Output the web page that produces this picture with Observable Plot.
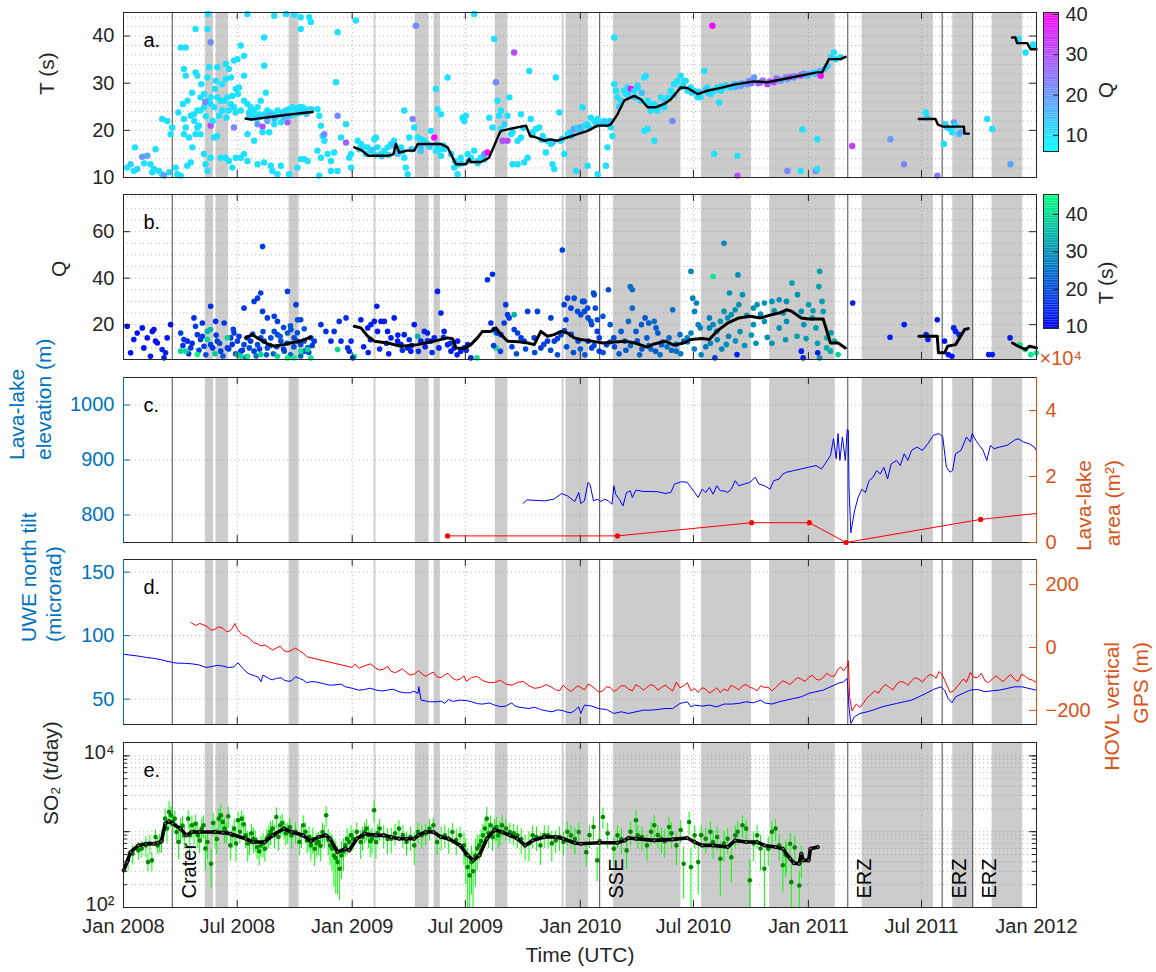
<!DOCTYPE html>
<html><head><meta charset="utf-8">
<script src="https://cdn.jsdelivr.net/npm/d3@7"></script>
<script src="https://cdn.jsdelivr.net/npm/@observablehq/plot@0.6"></script>
<style>
body{margin:0;background:#fff;}
#chart{position:relative;width:1156px;height:972px;overflow:hidden;font-family:"Liberation Sans",Arial,Helvetica,sans-serif;}
</style></head><body><div id="chart"></div>
<script>
// ---------------- DATA (times are decimal years) ----------------
const xTickDates = ["2008-01-01","2008-07-01","2009-01-01","2009-07-01","2010-01-01","2010-07-01","2011-01-01","2011-07-01","2012-01-01"];
const shadeStart = ["2008-05-11","2008-05-28","2008-09-22","2009-02-05","2009-04-12","2009-05-12","2009-08-18","2009-12-03","2009-12-09","2010-02-23","2010-07-14","2010-10-31","2011-03-28","2011-08-20","2011-10-22"];
const shadeEnd   = ["2008-05-24","2008-06-17","2008-10-08","2009-02-08","2009-05-04","2009-05-22","2009-09-07","2009-12-06","2010-01-14","2010-06-11","2010-10-02","2011-02-13","2011-07-20","2011-09-22","2011-12-10"];
const eventDates = ["2008-03-19","2010-02-01","2011-03-05","2011-08-03","2011-09-21"];
const eventLabels = ["Crater","SSE","ERZ","ERZ","ERZ"];

// panel a: [time, T (s), Q]
const eventsA = [
[2008.016,12.1,10],[2008.031,12.8,12],[2008.045,11.4,10],[2008.06,11.8,12],[2008.082,14.4,20],[2008.104,14.6,18],[2008.118,12.8,10],[2008.126,11.1,10],[2008.133,11.8,11],[2008.155,11.4,10],[2008.169,10.7,10],[2008.169,22.4,10],[2008.191,22.0,10],[2008.177,10.4,20],[2008.206,19.2,10],[2008.213,20.6,10],[2008.228,12.1,10],[2008.05,16.4,10],[2008.09,13.0,10],[2008.14,16.0,10],[2008.2,11.1,12],
[2008.315,41.5,10],[2008.25,37.6,10],[2008.272,37.6,10],[2008.264,33.0,10],[2008.272,31.6,10],[2008.315,32.3,10],[2008.323,31.6,10],[2008.367,41.5,10],[2008.369,44.7,10],[2008.381,38.7,22],[2008.374,33.4,10],[2008.367,31.2,10],[2008.403,30.5,10],[2008.41,33.4,10],[2008.447,34.1,10],[2008.447,30.9,10],[2008.461,33.0,10],[2008.483,34.8,10],[2008.498,35.1,10],[2008.513,38.0,10],[2008.527,35.8,10],[2008.527,31.6,10],[2008.505,29.1,10],[2008.491,28.8,10],[2008.476,27.3,10],[2008.454,27.0,10],[2008.44,26.3,10],[2008.432,24.2,10],[2008.418,23.1,10],[2008.396,24.9,10],[2008.381,25.6,10],[2008.367,26.3,10],[2008.352,24.9,10],[2008.337,24.2,10],[2008.323,24.2,10],[2008.308,23.4,10],[2008.294,23.1,10],[2008.337,27.0,10],[2008.352,27.7,10],[2008.381,27.0,10],[2008.41,27.0,10],[2008.425,26.3,10],[2008.469,25.6,10],[2008.483,24.9,10],[2008.513,24.2,10],[2008.527,26.3,10],[2008.542,25.6,10],[2008.556,24.9,10],[2008.264,22.4,10],[2008.272,20.6,10],[2008.264,19.2,10],[2008.286,18.5,10],[2008.301,16.4,10],[2008.315,19.2,10],[2008.323,20.6,10],[2008.337,19.2,10],[2008.352,15.0,10],[2008.359,12.8,10],[2008.367,11.4,10],[2008.381,14.2,10],[2008.396,18.5,10],[2008.41,18.8,10],[2008.425,14.2,10],[2008.447,14.2,10],[2008.461,13.5,10],[2008.476,12.1,10],[2008.491,14.2,10],[2008.513,14.2,10],[2008.527,15.0,10],[2008.542,13.5,10],[2008.235,10.7,10],[2008.25,10.4,10],[2008.279,12.5,10],[2008.294,13.2,10],[2008.381,21.0,30],[2008.483,20.6,22],[2008.357,26.0,22],
[2008.30,28.0,10],[2008.31,22.0,10],[2008.33,21.0,10],[2008.34,29.8,10],[2008.36,23.0,10],[2008.39,22.0,10],[2008.40,28.8,10],[2008.43,29.8,10],[2008.45,22.7,10],[2008.46,24.2,10],[2008.47,31.2,10],[2008.49,23.8,10],[2008.50,27.7,10],[2008.28,26.3,10],[2008.26,25.6,10],[2008.24,23.8,10],
[2008.542,44.7,10],[2008.659,44.3,10],[2008.71,44.7,10],[2008.746,44.5,10],[2008.775,44.0,10],[2008.812,44.0,10],[2008.615,39.7,10],[2008.615,33.7,10],[2008.622,28.0,10],[2008.6,26.3,10],[2008.586,24.9,10],[2008.571,24.2,10],[2008.549,23.8,10],[2008.556,22.7,10],[2008.571,23.1,10],[2008.593,23.4,10],[2008.615,23.4,10],[2008.629,24.2,10],[2008.644,23.8,10],[2008.659,23.4,10],[2008.673,24.2,10],[2008.695,23.8,10],[2008.71,24.2,10],[2008.724,24.5,10],[2008.739,24.9,10],[2008.754,24.5,10],[2008.768,24.9,10],[2008.783,24.9,10],[2008.797,24.5,10],[2008.812,24.2,10],[2008.586,21.3,20],[2008.608,20.8,30],[2008.629,22.0,18],[2008.659,21.3,10],[2008.688,21.7,10],[2008.717,21.7,28],[2008.746,23.4,10],[2008.775,23.8,10],[2008.542,19.2,10],[2008.571,17.8,10],[2008.586,12.8,10],[2008.615,13.2,10],[2008.644,12.5,10],[2008.651,11.4,10],[2008.673,10.7,10],[2008.688,12.5,10],[2008.724,10.7,10],[2008.761,12.1,10],[2008.775,13.9,10],[2008.79,13.9,10],[2008.805,13.5,10],[2008.608,19.6,10],[2008.637,19.6,10],[2008.7,22.7,14],[2008.66,22.5,16],[2008.60,22.9,12],[2008.73,23.2,12],
[2008.55,23.0,12],[2008.58,22.5,14],[2008.62,23.0,12],[2008.64,23.2,16],[2008.67,23.0,12],[2008.7,23.5,12],[2008.72,23.0,14],[2008.76,23.6,12],[2008.78,23.9,12],[2008.8,23.5,16],[2008.82,24.5,12],
[2008.775,41.5,10],[2008.819,43.0,10],[2008.848,24.5,10],[2008.856,23.1,10],[2008.863,21.0,10],[2008.87,18.8,10],[2008.878,17.8,10],[2008.848,15.7,10],[2008.863,14.2,10],[2008.878,19.2,22],[2008.892,15.0,10],[2008.907,13.5,10],[2008.921,15.3,10],[2008.936,23.1,22],[2008.936,40.8,10],[2008.929,30.2,10],[2008.951,18.5,10],[2008.973,21.3,10],[2008.973,17.4,28],[2008.987,14.2,10],[2008.995,15.0,10],[2008.856,10.4,10],[2008.907,11.4,10],[2008.936,11.4,10],[2009.016,43.3,10],[2008.995,12.1,10],
[2009.024,17.8,10],[2009.038,17.1,10],[2009.053,16.4,10],[2009.068,16.4,10],[2009.082,15.7,10],[2009.097,18.1,10],[2009.104,18.5,10],[2009.111,16.4,10],[2009.126,15.0,10],[2009.141,15.7,10],[2009.155,16.4,10],[2009.17,17.1,10],[2009.184,17.8,10],[2009.199,15.7,10],[2009.214,16.4,10],[2009.228,14.2,10],[2009.235,12.1,10],[2009.243,10.7,10],[2009.228,24.2,10],[2009.25,18.5,10],[2009.265,22.4,22],[2009.272,20.6,10],[2009.287,18.5,10],[2009.301,18.1,10],[2009.316,17.8,10],[2009.33,17.1,10],[2009.345,19.9,10],[2009.36,18.5,40],[2009.367,28.8,10],[2009.374,24.5,10],[2009.389,23.4,10],[2009.382,16.0,10],[2009.403,16.0,10],[2009.418,31.2,10],[2009.433,15.0,10],[2009.447,12.1,10],[2009.462,10.7,10],[2009.469,12.8,10],[2009.476,14.2,10],[2009.484,22.7,10],[2009.491,22.0,10],[2009.498,23.1,10],[2009.506,15.0,10],[2009.52,14.2,10],[2009.535,15.7,10],[2009.549,13.5,10],[2009.564,14.2,10],[2009.579,15.0,20],[2009.593,15.3,38],[2009.601,22.7,10],[2009.615,20.6,10],[2009.622,39.4,10],[2009.63,30.2,22],[2009.637,26.3,10],[2009.644,23.1,10],[2009.535,44.7,10],[2009.279,42.2,22],[2009.367,15.7,10],[2009.389,14.6,10],[2009.18,16.8,14],[2009.09,15.9,14],[2009.3,16.5,16],
[2009.03,16.0,12],[2009.06,15.0,12],[2009.1,14.8,12],[2009.13,14.5,14],[2009.16,14.8,12],[2009.2,15.0,14],[2009.22,15.5,12],[2009.26,16.0,12],[2009.3,15.7,14],[2009.34,16.5,12],[2009.37,17.0,14],[2009.4,16.8,12],[2009.45,13.5,12],[2009.48,13.0,12],[2009.51,13.5,14],[2009.55,13.0,12],[2009.58,13.8,14],
[2009.652,20.3,10],[2009.667,21.3,12],[2009.681,23.1,10],[2009.696,19.2,10],[2009.703,19.6,10],[2009.725,17.8,10],[2009.74,18.5,10],[2009.74,23.4,10],[2009.703,12.8,10],[2009.725,12.8,10],[2009.689,27.0,10],[2009.652,24.2,10],[2009.659,17.8,30],[2009.681,17.8,30],[2009.754,13.2,10],[2009.769,14.2,10],[2009.71,36.5,30],[2009.776,32.6,10],[2009.783,22.4,10],[2009.791,19.6,10],[2009.805,20.3,10],[2009.82,20.6,10],[2009.835,18.8,10],[2009.849,15.3,10],[2009.856,17.8,10],[2009.871,17.1,10],[2009.878,12.8,10],[2009.886,11.8,10],[2009.893,31.2,10],[2009.908,23.8,10],[2009.915,17.8,10],[2009.93,15.0,10],[2009.944,19.2,10],[2009.959,19.6,12],[2009.973,20.3,20],[2009.988,20.6,10],[2010.003,20.6,20],[2010.01,24.9,10],[2010.017,21.0,10],[2010.032,21.3,10],[2010.046,22.7,10],[2010.061,22.0,10],[2010.076,22.4,10],[2010.09,21.7,10],[2010.105,22.0,10],[2010.119,21.3,10],[2010.134,20.6,10],[2010.141,18.8,10],[2010.119,16.4,10],[2010.112,12.5,10],[2010.076,10.7,10],[2010.032,12.5,10],[2009.981,11.4,10],
[2009.75,20.5,12],[2009.79,19.0,12],[2009.83,18.0,12],[2009.88,17.5,14],[2009.92,18.2,14],[2009.96,18.8,14],[2010.0,19.8,14],[2010.04,20.5,12],[2010.07,21.2,12],[2010.1,21.5,14],[2010.13,22.0,14],[2010.17,25.0,12],[2010.21,27.5,12],[2010.24,27.0,14],[2010.27,28.0,14],[2010.3,25.5,12],[2010.34,25.0,12],[2010.37,26.0,14],[2010.41,27.5,12],[2010.45,29.5,14],[2010.49,28.0,14],[2010.52,28.2,12],[2010.56,28.0,14],[2010.59,28.6,14],[2010.64,29.5,14],[2010.68,29.2,18],[2010.71,30.0,18],[2010.74,30.5,22],[2010.78,30.0,24],[2010.83,30.4,28],[2010.87,30.8,26],[2010.9,31.2,22],[2010.94,31.5,26],[2010.97,31.8,24],[2011.0,31.9,20],[2011.03,32.0,14],[2011.07,33.0,12],[2011.1,35.5,12],[2011.14,35.5,12],
[2010.149,39.7,10],[2010.149,29.8,10],[2010.156,28.4,10],[2010.163,27.0,10],[2010.178,26.3,10],[2010.192,28.4,10],[2010.207,29.1,10],[2010.222,28.8,40],[2010.236,28.4,10],[2010.251,29.1,10],[2010.265,26.3,10],[2010.28,31.2,10],[2010.287,31.6,10],[2010.295,26.3,10],[2010.309,24.2,10],[2010.324,25.6,10],[2010.338,24.2,10],[2010.353,27.0,10],[2010.368,24.9,10],[2010.382,27.0,10],[2010.397,28.4,10],[2010.411,29.8,10],[2010.426,30.5,10],[2010.44,31.6,10],[2010.455,30.5,10],[2010.28,19.9,10],[2010.295,20.3,10],[2010.324,17.8,10],[2010.404,22.0,22],[2010.44,29.1,10],[2010.462,30.5,10],[2010.47,28.4,10],[2010.484,29.1,10],[2010.499,28.4,10],[2010.514,27.0,10],[2010.528,27.0,10],[2010.543,32.6,10],[2010.557,29.1,10],[2010.572,27.7,10],[2010.587,28.4,10],[2010.601,29.1,10],[2010.609,25.9,10],[2010.616,28.4,10],[2010.63,29.1,10],[2010.659,29.1,12],[2010.674,29.8,14],[2010.689,29.8,16],[2010.703,29.4,18],[2010.732,29.8,20],[2010.762,31.2,20],[2010.791,30.2,30],[2010.82,29.8,30],[2010.849,30.2,30],[2010.878,30.5,20],[2010.908,30.9,18],[2010.937,31.2,20],[2010.966,31.6,30],[2010.995,31.6,15],[2011.024,32.3,12],[2011.054,31.6,40],[2011.083,33.7,12],[2011.112,36.5,10],[2011.12,35.1,10],[2010.579,42.2,40],[2010.587,15.0,10],[2010.689,14.6,10],[2010.689,10.4,30],[2010.908,11.4,22],[2010.966,11.4,10],[2010.974,20.2,10],[2011.032,11.4,22],[2011.039,11.8,10],[2011.039,18.1,10],
[2010.25,29.5,12],[2010.2,27.8,10],[2010.55,28.7,14],[2010.62,29.3,12],[2010.75,30.0,25],[2010.8,30.6,25],[2010.86,31.0,25],[2010.92,31.3,28],[2010.98,32.0,20],[2011.05,32.6,15],
[2011.192,16.7,32],[2011.36,18.1,20],[2011.419,12.8,22],[2011.514,23.8,10],[2011.521,22.7,12],[2011.565,10.4,25],[2011.594,17.1,10],[2011.601,21.3,12],[2011.609,20.6,14],[2011.623,20.3,12],[2011.63,19.6,10],[2011.638,21.7,20],[2011.645,21.0,10],[2011.66,19.2,14],[2011.667,19.6,18],[2011.784,22.4,10],[2011.806,20.3,10],[2011.886,12.8,18],[2011.922,39.4,10],[2011.952,36.5,10],[2011.985,38.2,10],[2011.987,37.9,10]
];
// panel a: running median of T, one array per segment [time, T]
const medianA = [
[[2008.534,22.5],[2008.56,22.3],[2008.6,22.6],[2008.65,22.9],[2008.7,23.2],[2008.75,23.5],[2008.8,23.8],[2008.827,23.9]],
[[2009.009,16.4],[2009.04,15.8],[2009.053,15.3],[2009.07,14.6],[2009.155,14.6],[2009.18,14.9],[2009.192,17.1],[2009.206,15.3],[2009.24,15.7],[2009.272,15.7],[2009.287,17.1],[2009.389,17.1],[2009.418,16.4],[2009.455,12.8],[2009.498,12.8],[2009.513,13.9],[2009.52,13.3],[2009.564,13.3],[2009.6,14.2],[2009.644,19.2],[2009.652,19.9],[2009.7,20.4],[2009.762,21.0],[2009.78,18.8],[2009.8,18.6],[2009.842,17.8],[2009.87,18.1],[2009.9,17.8],[2009.944,18.5],[2009.988,19.2],[2010.032,19.9],[2010.076,21.0],[2010.12,21.0],[2010.134,21.3],[2010.163,23.4],[2010.192,26.3],[2010.236,27.3],[2010.265,26.6],[2010.295,24.9],[2010.33,24.9],[2010.368,25.6],[2010.397,26.6],[2010.44,29.1],[2010.47,29.0],[2010.514,27.7],[2010.557,28.4],[2010.616,29.0],[2010.674,29.7],[2010.762,30.4],[2010.82,30.2],[2010.893,30.9],[2010.966,31.6],[2011.039,32.3],[2011.06,32.3],[2011.09,35.1],[2011.141,35.1],[2011.163,35.6]],
[[2011.484,22.4],[2011.557,22.4],[2011.568,21.2],[2011.59,20.8],[2011.682,20.8],[2011.684,19.3],[2011.703,19.3]],
[[2011.893,39.7],[2011.908,39.7],[2011.915,38.5],[2011.959,38.5],[2011.974,37.2],[2012.0,37.2]]
];

// panel b: [time, Q, T (s)]
const eventsB = [
[2008.016,19.3,12],[2008.031,7.9,12],[2008.045,13.6,12],[2008.06,16.4,12],[2008.082,18.6,12],[2008.089,10,12],[2008.104,14.3,12],[2008.126,17.1,12],[2008.118,6.4,14],[2008.133,17.9,12],[2008.14,12.9,12],[2008.148,12.1,12],[2008.169,9.3,14],[2008.177,5.7,14],[2008.191,14.3,12],[2008.206,20,12],[2008.184,7.9,14],
[2008.308,22.9,16],[2008.381,27.9,16],[2008.345,20.7,16],[2008.403,21.4,16],[2008.44,20.7,18],[2008.367,17.1,35],[2008.527,27.1,18],[2008.571,30,18],[2008.586,31.4,18],[2008.6,33.6,18],[2008.608,53.6,18],[2008.608,25.7,18],[2008.629,22.9,18],[2008.659,23.6,18],[2008.673,21.4,18],[2008.717,34.3,18],[2008.754,28.6,18],[2008.761,22.1,20],[2008.775,22.1,20],[2008.315,19.3,18],[2008.323,15.7,18],[2008.25,16.4,18],[2008.264,13.6,18],[2008.279,12.9,16],[2008.294,10,18],[2008.337,13.6,18],[2008.352,10.7,18],[2008.381,11.4,18],[2008.41,12.9,18],[2008.425,8.6,18],[2008.454,10,18],[2008.469,14.3,18],[2008.483,16.4,18],[2008.498,12.9,18],[2008.513,8.6,18],[2008.527,11.4,20],[2008.542,14.3,18],[2008.556,12.9,18],[2008.571,8.6,18],[2008.586,11.4,20],[2008.6,14.3,20],[2008.615,12.9,18],[2008.629,10,20],[2008.644,14.3,20],[2008.659,17.1,20],[2008.673,15.7,20],[2008.688,12.9,20],[2008.703,8.6,20],[2008.717,16.4,22],[2008.732,17.9,20],[2008.746,14.3,20],[2008.761,12.9,22],[2008.775,11.4,20],[2008.79,8.6,20],[2008.805,10,20],[2008.819,14.3,20],[2008.834,12.9,18],[2008.73,19.5,22],[2008.70,18.8,20],[2008.79,18.2,22],[2008.48,18.0,18],
[2008.26,11.0,16],[2008.285,7.5,18],[2008.30,12.0,16],[2008.33,9.0,18],[2008.345,15.0,18],[2008.36,7.0,20],[2008.39,10.0,16],[2008.405,15.5,18],[2008.42,12.0,20],[2008.435,6.5,22],[2008.46,9.5,18],[2008.475,11.5,16],[2008.49,7.5,22],[2008.505,15.0,18],[2008.52,9.0,18],[2008.535,6.0,20],[2008.55,10.0,20],[2008.565,16.0,20],[2008.58,6.5,25],[2008.595,9.5,18],[2008.61,17.0,20],[2008.625,7.0,22],[2008.64,11.0,20],[2008.655,7.5,24],[2008.67,10.5,20],[2008.685,15.0,22],[2008.70,9.5,18],[2008.715,12.0,20],[2008.73,7.0,24],[2008.745,10.5,20],[2008.76,16.5,20],[2008.775,6.5,24],[2008.79,13.0,20],[2008.81,8.0,20],[2008.825,11.0,18],
[2008.25,8.6,40],[2008.272,8.6,40],[2008.323,7.1,45],[2008.367,13.6,40],[2008.381,17.9,35],[2008.454,14.3,40],[2008.513,6.4,40],[2008.542,6.4,42],[2008.673,6.4,40],[2008.717,5.7,45],[2008.746,5.7,45],[2008.775,8.6,42],[2008.805,9.3,40],[2008.819,5.7,42],[2008.936,9.3,40],[2009.009,6.4,45],[2009.547,5.7,42],[2009.63,10,40],[2009.71,24.3,35],[2009.63,16.4,35],[2008.40,7.5,38],[2008.60,7.2,40],[2008.50,7.0,38],
[2008.863,20,16],[2008.885,17.1,16],[2008.907,12.9,16],[2008.921,17.1,16],[2008.943,21.4,16],[2008.951,12.9,16],[2008.973,22.9,16],[2008.987,8.6,16],[2008.98,10.0,16],[2008.995,12.9,16],[2009.002,5.7,16],
[2009.038,22.1,14],[2009.068,18.6,14],[2009.082,20,14],[2009.097,21.4,14],[2009.108,27.9,14],[2009.111,17.1,14],[2009.126,21.4,14],[2009.141,21.4,14],[2009.155,17.1,14],[2009.17,14.3,14],[2009.184,22.9,14],[2009.199,12.9,14],[2009.214,11.4,14],[2009.228,15.7,14],[2009.243,10,14],[2009.257,8.6,14],[2009.272,20,14],[2009.287,15,35],[2009.301,12.9,14],[2009.316,17.1,14],[2009.33,16.4,14],[2009.345,12.9,14],[2009.36,14.3,14],[2009.374,34.3,14],[2009.389,25,14],[2009.403,17.1,14],[2009.418,11.4,14],[2009.433,8.6,14],[2009.447,10,14],[2009.462,12.9,14],[2009.476,8.6,14],[2009.491,10,14],[2009.506,11.4,14],[2009.52,5.7,14],[2009.08,13.5,14],[2009.15,12.0,16],[2009.25,13.5,16],[2009.33,13.0,16],[2009.40,14.5,16],
[2009.05,10.5,14],[2009.07,8.0,14],[2009.12,9.5,16],[2009.16,7.5,14],[2009.2,15.5,14],[2009.22,9.0,16],[2009.26,11.0,14],[2009.29,8.5,16],[2009.32,10.5,14],[2009.35,8.0,16],[2009.38,10.0,14],[2009.43,12.0,16],[2009.46,7.0,14],[2009.5,9.0,16],
[2009.593,39.3,16],[2009.615,41.7,16],[2009.608,20.7,16],[2009.622,17.9,16],[2009.637,16.4,16],[2009.652,15.7,18],[2009.666,20.7,18],[2009.673,28.6,18],[2009.681,24.3,18],[2009.688,22.9,18],[2009.71,17.9,18],[2009.725,16.4,18],[2009.74,14.3,18],[2009.754,12.9,18],[2009.769,25.7,18],[2009.798,14.3,18],[2009.812,25.7,18],[2009.827,10,18],[2009.856,12.9,18],[2009.871,22.9,18],[2009.886,12.9,18],[2009.915,15.7,20],[2009.921,52.1,18],[2009.929,28.6,18],[2009.937,22.1,18],[2009.944,31.4,18],[2009.959,27.1,18],[2009.973,31.4,20],[2009.988,25.7,20],[2010.002,24.3,20],[2010.017,30,20],[2010.032,27.1,20],[2010.046,21.4,20],[2010.061,32.9,20],[2010.075,22.1,20],[2009.96,15.8,20],[2009.93,17.5,20],[2009.90,14.0,18],[2009.99,13.0,20],
[2009.62,11.0,18],[2009.65,8.5,18],[2009.70,10.5,18],[2009.72,7.5,20],[2009.76,9.5,20],[2009.80,8.0,20],[2009.84,11.5,20],[2009.87,9.0,20],[2009.90,7.0,20],[2009.94,10.5,20],[2009.97,8.0,20],[2010.0,9.5,22],[2010.02,7.0,22],[2010.06,11.0,20],[2010.1,8.0,22],[2010.13,12.5,20],[2010.17,7.5,22],[2010.22,11.0,24],[2010.26,7.0,24],[2010.31,9.5,24],[2010.35,7.0,26],[2010.38,10.5,26],[2010.44,7.5,26],[2010.5,9.5,28],[2010.53,7.0,28],[2010.57,12.0,28],[2010.64,11.5,30],[2010.68,13.0,30],[2010.72,11.0,30],[2010.77,12.0,30],[2010.84,12.0,30],[2010.9,13.5,30],[2010.95,15.0,32],[2010.99,14.0,32],[2011.04,12.0,32],[2011.08,10.0,34],[2011.1,16.5,32],
[2010.010,30,20],[2010.018,25.7,20],[2010.034,22.9,20],[2010.050,20,20],[2010.058,33.6,20],[2010.066,27.1,20],[2010.074,17.1,18],[2010.083,14.3,18],[2010.099,23.6,22],[2010.123,35,20],[2010.131,20,22],[2010.147,14.3,20],[2010.034,12.9,18],[2010.050,10,18],[2010.083,8.6,18],[2010.115,11.4,18],
[2010.219,36.4,25],[2010.228,35,25],[2010.228,27.1,25],[2010.211,21.4,25],[2010.244,17.1,22],[2010.268,20,22],[2010.284,22.9,22],[2010.3,20.7,22],[2010.324,21.4,25],[2010.332,18.6,22],[2010.34,16.4,22],[2010.356,11.4,22],[2010.389,14.3,25],[2010.405,26.4,25],[2010.292,14.3,22],[2010.195,12.9,22],[2010.179,17.1,22],[2010.421,8.6,25],[2010.437,15.7,25],[2010.453,12.9,25],[2010.485,42.9,28],[2010.493,31.4,28],[2010.501,25.7,28],[2010.509,29.3,28],[2010.517,20,28],[2010.526,18.6,28],[2010.485,16.4,28],[2010.469,14.3,28],[2010.25,13.0,22],[2010.30,11.0,22],[2010.36,12.5,25],[2010.42,11.5,25],[2010.47,12.5,27],[2010.15,10.5,20],[2010.20,9.0,22],[2010.27,9.5,22],[2010.33,8.5,22],[2010.40,9.0,24],
[2010.582,40.7,42],[2010.630,55,28],[2010.654,33.6,30],[2010.691,41.4,30],[2010.711,32.9,30],[2010.695,28.6,30],[2010.679,26.4,30],[2010.646,22.9,30],[2010.614,21.4,30],[2010.582,20,28],[2010.566,18.6,28],[2010.598,17.1,28],[2010.63,25.7,30],[2010.662,24.3,30],[2010.566,22.9,28],[2010.759,27.1,30],[2010.775,28.6,30],[2010.807,29.3,30],[2010.84,30,30],[2010.872,30.7,30],[2010.904,30,30],[2010.928,37.9,32],[2010.952,32.9,30],[2010.969,25.7,30],[2010.807,21.4,30],[2010.759,20,30],[2010.904,21.4,30],[2010.872,18.6,30],[2010.73,24.0,30],[2010.79,24.6,30],[2010.85,26.0,30],[2010.89,25.0,30],[2010.60,13.5,28],[2010.65,15.0,28],[2010.70,17.0,30],[2010.75,15.5,30],[2010.82,14.5,30],[2010.55,10.5,26],[2010.62,9.5,28],
[2011.001,28.6,32],[2011.017,22.9,32],[2011.033,18.6,32],[2011.049,42.9,32],[2011.046,36.4,32],[2011.065,25.7,32],[2011.081,14.3,34],[2011.097,8.6,34],[2011.114,12.9,35],[2011.13,7.1,40],[2010.969,8.6,14],[2010.977,5.7,14],[2011.041,7.9,14],[2010.687,7.1,14],[2010.59,5.7,18],[2011.049,5.7,30],[2010.98,20,30],[2011.02,26,32],[2011.06,30.0,32],
[2011.194,29.3,14],[2011.358,14.6,14],[2011.42,20,14],[2011.516,15.7,14],[2011.524,13.6,14],[2011.565,22.1,12],[2011.597,12.9,12],[2011.613,7.1,12],[2011.629,6.4,12],[2011.637,18.6,14],[2011.645,17.1,14],[2011.661,15.7,14],[2011.79,7.1,14],[2011.806,7.1,14],[2011.884,14.3,14],[2011.927,11.4,42],[2011.951,9.3,42],[2011.975,7.1,42],[2011.999,7.9,42]
];
const medianB = [
[[2008.534,14.3],[2008.563,15.7],[2008.585,14.3],[2008.63,11.7],[2008.66,10.7],[2008.7,11.4],[2008.73,12.1],[2008.775,13.0],[2008.819,14.6]],
[[2009.009,19.3],[2009.038,18.6],[2009.068,15.0],[2009.097,12.9],[2009.155,12.1],[2009.214,10.7],[2009.287,11.4],[2009.36,12.9],[2009.418,14.3],[2009.44,13.9],[2009.455,10.0],[2009.49,9.7],[2009.52,11.4],[2009.549,14.3],[2009.571,17.1],[2009.608,17.1],[2009.63,18.6],[2009.652,15.7],[2009.681,12.9],[2009.73,12.6],[2009.77,12.1],[2009.798,11.4],[2009.827,17.1],[2009.856,15.0],[2009.885,15.7],[2009.915,17.1],[2009.944,16.4],[2009.973,14.3],[2010.002,13.6],[2010.05,12.9],[2010.099,12.1],[2010.195,12.9],[2010.24,12.1],[2010.292,10.3],[2010.324,11.7],[2010.372,12.9],[2010.41,11.2],[2010.453,12.1],[2010.485,13.6],[2010.534,14.0],[2010.566,13.6],[2010.598,17.1],[2010.646,20.7],[2010.695,22.9],[2010.743,23.6],[2010.79,22.9],[2010.84,24.3],[2010.872,25.0],[2010.904,26.4],[2010.928,25.7],[2010.969,22.9],[2011.001,22.4],[2011.065,22.4],[2011.097,12.1],[2011.13,12.1],[2011.162,10.0]],
[[2011.484,15.0],[2011.565,15.0],[2011.57,7.9],[2011.597,7.9],[2011.61,10.7],[2011.645,11.4],[2011.685,17.9],[2011.701,18.3]],
[[2011.895,12.1],[2011.92,10.7],[2011.951,9.3],[2011.97,10.7],[2012.0,10.0]]
];

// panel c: lava-lake elevation [time, m]
const lakeElev = [
[2009.75,821.4],[2009.766,827.5],[2009.842,825.7],[2009.884,828.7],[2009.918,839.1],[2009.943,834.9],[2009.976,824.5],[2009.993,841],[2010.002,820.8],[2010.018,825.7],[2010.034,859.3],[2010.042,856.3],[2010.058,825.7],[2010.074,828.7],[2010.091,824.5],[2010.107,828.7],[2010.123,825.7],[2010.139,819.6],[2010.147,853.2],[2010.155,837.9],[2010.171,828.7],[2010.187,816.5],[2010.203,841],[2010.219,844],[2010.228,831.8],[2010.244,845.3],[2010.276,842.8],[2010.308,842.8],[2010.34,842.2],[2010.372,839.1],[2010.397,841],[2010.413,856.3],[2010.445,860.6],[2010.469,859.3],[2010.485,850.2],[2010.501,841],[2010.517,831.8],[2010.534,847.1],[2010.55,841],[2010.566,850.2],[2010.582,837.9],[2010.598,853.2],[2010.614,844],[2010.63,844],[2010.646,841],[2010.662,847.1],[2010.679,862.4],[2010.695,853.2],[2010.719,856.3],[2010.743,859.3],[2010.767,868.5],[2010.783,856.3],[2010.807,853.2],[2010.832,847.1],[2010.848,862.4],[2010.872,865.4],[2010.888,874.6],[2010.904,877.7],[2010.936,880.7],[2010.969,883.8],[2011.001,886.8],[2011.033,889.9],[2011.057,883.8],[2011.073,893],[2011.097,908.3],[2011.11,938.8],[2011.122,902.1],[2011.13,948],[2011.138,899.1],[2011.149,941.9],[2011.162,899.1],[2011.17,955.4],[2011.175,954],[2011.178,850.2],[2011.186,767.6],[2011.202,807.3],[2011.218,831.8],[2011.234,847.1],[2011.25,841],[2011.266,862.4],[2011.283,868.5],[2011.299,880.7],[2011.315,874.6],[2011.331,886.8],[2011.347,865.4],[2011.363,893],[2011.387,899.1],[2011.403,889.9],[2011.42,911.3],[2011.436,899.1],[2011.452,917.4],[2011.476,923.5],[2011.5,917.4],[2011.524,929.7],[2011.548,945],[2011.573,948],[2011.589,941.9],[2011.605,886.8],[2011.621,877.7],[2011.632,880.7],[2011.645,911.3],[2011.669,917.4],[2011.693,941.9],[2011.71,932.7],[2011.718,948],[2011.734,935.8],[2011.75,926.6],[2011.766,917.4],[2011.782,899.1],[2011.798,926.6],[2011.814,920.5],[2011.838,923.5],[2011.871,926.6],[2011.903,935.8],[2011.919,938.8],[2011.943,932.7],[2011.967,929.7],[2011.991,923.5],[2011.999,917.4]
];
// panel c: lava-lake area (m^2)
const lakeAreaTime = [2009.418, 2010.163, 2010.751, 2011.004, 2011.165, 2011.755, 2012.0];
const lakeArea     = [2000, 2000, 6000, 6000, 0, 7000, 8800];

// panel d: UWE north tilt [time, microrad]
const tiltUWE = [
[2008.001,85.3],[2008.065,83.9],[2008.132,82.1],[2008.199,79.5],[2008.266,78.2],[2008.333,76.8],[2008.383,75.5],[2008.434,76.1],[2008.484,75.5],[2008.5,78.7],[2008.526,73.4],[2008.551,69.7],[2008.576,68.2],[2008.601,63.7],[2008.61,68.9],[2008.635,66.3],[2008.668,66.3],[2008.702,65],[2008.735,64.5],[2008.752,67.6],[2008.786,65],[2008.819,63.7],[2008.87,62.4],[2008.92,61.1],[2008.97,59.7],[2009.004,58.4],[2009.054,57.6],[2009.104,57.1],[2009.155,57.1],[2009.205,55.8],[2009.255,55],[2009.289,54.5],[2009.292,59.7],[2009.302,49.2],[2009.339,47.9],[2009.372,47.9],[2009.406,46.6],[2009.422,49.7],[2009.473,49.2],[2009.523,47.9],[2009.573,46.1],[2009.624,45.3],[2009.674,44.5],[2009.699,47.1],[2009.724,43.9],[2009.775,42.6],[2009.825,41.8],[2009.876,40],[2009.926,40.8],[2009.959,39.2],[2009.993,43.9],[2010.002,38.7],
[2010.018,45.3],[2010.05,44.5],[2010.083,42.4],[2010.115,41.8],[2010.147,38.7],[2010.179,40],[2010.211,38.7],[2010.244,40],[2010.276,41.3],[2010.308,41.3],[2010.34,41.8],[2010.372,42.6],[2010.405,42.6],[2010.437,46.6],[2010.469,47.9],[2010.485,43.9],[2010.501,45.3],[2010.534,44.5],[2010.566,45.3],[2010.598,43.9],[2010.63,46.1],[2010.662,46.1],[2010.695,46.6],[2010.727,47.9],[2010.759,47.1],[2010.791,49.2],[2010.807,47.1],[2010.84,46.1],[2010.872,47.9],[2010.904,49.2],[2010.936,50.5],[2010.969,51.8],[2011.001,54.5],[2011.033,55.8],[2011.065,57.1],[2011.097,59.7],[2011.13,62.4],[2011.154,63.7],[2011.17,66.3],[2011.178,43.9],[2011.186,30.8],[2011.202,36.1],[2011.226,38.7],[2011.258,40],[2011.291,41.8],[2011.323,43.9],[2011.355,45.3],[2011.387,46.6],[2011.42,47.9],[2011.452,49.2],[2011.484,51.8],[2011.516,54.5],[2011.548,57.6],[2011.581,59.7],[2011.597,57.1],[2011.613,50.5],[2011.629,47.1],[2011.645,51.8],[2011.677,54.5],[2011.71,57.1],[2011.742,57.6],[2011.774,55.8],[2011.806,56.6],[2011.838,57.1],[2011.871,58.4],[2011.903,59.7],[2011.935,59.7],[2011.967,58.4],[2011.999,57.1],
[2008.10,82.8],[2008.16,81.2],[2008.23,78.4],[2008.30,77.8],[2008.36,75.0],[2008.41,76.6],[2008.46,74.8],[2008.54,71.0],[2008.59,67.2],[2008.65,65.2],[2008.69,66.8],[2008.72,64.0],[2008.77,66.2],[2008.80,63.0],[2008.84,63.6],[2008.90,61.0],[2008.95,61.8],[2009.03,57.0],[2009.08,58.6],[2009.13,56.4],[2009.18,57.8],[2009.23,55.0],[2009.27,56.2],[2009.32,48.6],[2009.39,48.4],[2009.44,48.2],[2009.50,48.8],[2009.55,46.4],[2009.60,47.0],[2009.65,44.0],[2009.71,45.0],[2009.75,43.2],[2009.80,43.6],[2009.85,40.8],[2009.90,41.6],[2009.94,39.8],[2009.975,41.0]
];
// panel d: HOVL vertical GPS [time, m]
const gpsHOVL = [
[2008.295,79.7],[2008.333,76.5],[2008.367,65.9],[2008.4,58.5],[2008.434,61.7],[2008.467,53.2],[2008.487,76.3],[2008.509,47.9],[2008.534,37.3],[2008.568,16],[2008.601,5.4],[2008.635,0.1],[2008.668,-2],[2008.702,-10.5],[2008.735,-8.4],[2008.769,-10.5],[2008.803,-29.6],[2009.0,-63.6],[2009.012,-53],[2009.054,-58.3],[2009.104,-65.7],[2009.138,-68.9],[2009.171,-76.3],[2009.205,-74.2],[2009.238,-79.5],[2009.272,-84.8],[2009.305,-82.7],[2009.339,-84.8],[2009.372,-93.3],[2009.406,-86.9],[2009.439,-97.3],[2009.473,-100.6],[2009.523,-95.4],[2009.573,-105.8],[2009.624,-111.1],[2009.674,-116.4],[2009.724,-111.1],[2009.775,-121.7],[2009.825,-127],[2009.876,-127],[2009.909,-137.9],[2009.943,-132.6],[2009.976,-129.4],
[2008.316,70],[2008.35,72],[2008.383,55],[2008.417,66],[2008.45,50],[2008.476,62],[2008.498,58],[2008.52,40],[2008.55,30],[2008.585,12],[2008.618,8],[2008.652,-8],[2008.685,4],[2008.718,-14],[2008.752,-2],[2008.786,-18],
[2009.03,-66],[2009.08,-52],[2009.12,-72],[2009.155,-60],[2009.19,-80],[2009.22,-68],[2009.255,-88],[2009.29,-74],[2009.32,-92],[2009.355,-78],[2009.39,-96],[2009.42,-82],[2009.456,-104],[2009.49,-90],[2009.5,-108],[2009.548,-92],[2009.6,-112],[2009.65,-104],[2009.7,-120],[2009.75,-108],[2009.8,-130],[2009.85,-118],[2009.89,-134],[2009.925,-120],[2009.96,-140],[2009.99,-122],
[2010.002,-127],[2010.034,-116.4],[2010.066,-132.6],[2010.099,-137.9],[2010.131,-127],[2010.163,-132.6],[2010.195,-121.7],[2010.228,-137.9],[2010.26,-125.2],[2010.292,-127],[2010.324,-121.7],[2010.356,-127],[2010.389,-129.4],[2010.421,-110],[2010.453,-121.7],[2010.485,-137.9],[2010.517,-143.2],[2010.55,-132.6],[2010.582,-137.9],[2010.614,-143.2],[2010.646,-137.9],[2010.679,-127],[2010.711,-121.7],[2010.743,-127],[2010.775,-137.9],[2010.807,-127],[2010.84,-137.9],[2010.872,-116.4],[2010.904,-111.1],[2010.936,-105.8],[2010.969,-100.6],[2011.001,-95.4],[2011.033,-100.6],[2011.065,-95.4],[2011.097,-90.2],[2011.13,-68.9],[2011.154,-74.2],[2011.17,-58.3],[2011.175,-42.4],[2011.181,-159.2],[2011.191,-201.6],[2011.21,-180.3],[2011.226,-190.9],[2011.258,-159.2],[2011.291,-137.9],[2011.323,-127],[2011.355,-127],[2011.387,-116.4],[2011.42,-111.1],[2011.452,-105.8],[2011.484,-100.6],[2011.516,-95.4],[2011.548,-90.2],[2011.573,-76.3],[2011.589,-90.2],[2011.605,-116.4],[2011.621,-143.2],[2011.637,-137.9],[2011.661,-116.4],[2011.693,-111.1],[2011.71,-79.5],[2011.726,-95.4],[2011.742,-95.4],[2011.774,-105.8],[2011.806,-100.6],[2011.838,-100.6],[2011.871,-95.4],[2011.903,-100.6],[2011.935,-84.8],[2011.967,-100.6],[2011.999,-111.1],
[2010.018,-135],[2010.05,-122],[2010.083,-142],[2010.115,-125],[2010.147,-140],[2010.179,-122],[2010.211,-132],[2010.244,-118],[2010.276,-136],[2010.308,-118],[2010.34,-136],[2010.372,-120],[2010.405,-138],[2010.437,-128],[2010.469,-112],[2010.501,-130],[2010.534,-128],[2010.566,-145],[2010.598,-128],[2010.63,-132],[2010.662,-120],[2010.695,-135],[2010.727,-118],[2010.759,-130],[2010.791,-122],[2010.824,-126],[2010.856,-128],[2010.888,-106],[2010.92,-118],[2010.952,-96],[2010.985,-108],[2011.017,-88],[2011.049,-104],[2011.081,-82],[2011.113,-92],[2011.142,-62],
[2011.242,-176],[2011.274,-150],[2011.307,-146],[2011.339,-118],[2011.371,-135],[2011.403,-108],[2011.436,-120],[2011.468,-96],[2011.5,-110],[2011.532,-86],[2011.56,-98],[2011.68,-100],[2011.758,-82],[2011.79,-112],[2011.822,-90],[2011.855,-108],[2011.887,-86],[2011.919,-108],[2011.951,-92],[2011.983,-104]
];

// panel e: SO2 emission [time, t/day, error]
const so2Obs = [
[2008.040,512,150],[2008.065,566,150],[2008.098,659,200],[2008.107,397,100],[2008.124,418,120],[2008.140,851,200],[2008.149,659,150],[2008.166,767,250],[2008.182,1486,500],[2008.199,1820,700],[2008.207,1644,500],[2008.216,1342,400],[2008.224,1486,400],[2008.232,991,300],[2008.241,730,300],[2008.249,1096,400],[2008.266,895,300],[2008.283,1486,400],[2008.299,1213,400],[2008.316,1275,400],[2008.325,895,300],[2008.333,767,250],[2008.350,1213,400],[2008.367,730,300],[2008.383,378,200],[2008.400,991,400],[2008.417,1486,500],[2008.425,1644,600],[2008.434,1342,400],[2008.450,991,300],[2008.467,659,250],[2008.484,1096,350],[2008.501,1412,400],[2008.517,1486,400],[2008.534,895,300],[2008.551,730,250],[2008.568,808,300],[2008.584,627,200],[2008.601,659,200],[2008.618,596,200],[2008.635,895,300],[2008.651,1096,300],[2008.668,1564,500],[2008.685,1213,400],[2008.702,1096,300],[2008.718,991,300],[2008.735,895,300],[2008.769,730,250],[2008.786,1213,400],[2008.803,767,250],[2008.819,659,250],[2008.836,596,250],[2008.853,730,250],[2008.870,991,300],[2008.886,1644,500],[2008.903,659,300],[2008.920,486,300],[2008.936,397,250],[2008.945,324,200],[2008.953,486,250],[2008.970,659,200],[2008.987,730,200],[2009.004,808,250],[2009.037,730,300],[2009.054,991,300],[2009.071,895,300],[2009.087,808,300],[2009.096,1914,600],[2009.104,730,300],[2009.138,895,300],[2009.171,808,300],[2009.205,1096,300],[2009.238,730,250],[2009.272,659,300],[2009.305,895,300],[2009.339,1096,350],[2009.356,1213,300],[2009.372,730,250],[2009.406,895,300],[2009.439,991,300],[2009.473,895,250],[2009.490,659,300],[2009.506,341,250],[2009.515,265,250],[2009.523,397,250],[2009.540,486,300],[2009.557,659,250],[2009.573,895,350],[2009.590,1486,600],[2009.607,1213,400],[2009.624,1096,350],[2009.640,895,300],[2009.657,1213,400],[2009.691,991,300],[2009.724,895,300],[2009.758,659,250],[2009.791,895,300],[2009.825,659,300],[2009.859,895,300],[2009.892,767,250],[2009.926,730,250],[2009.959,895,300],[2009.993,991,300],
[2008.02,420,120],[2008.08,600,150],[2008.115,700,200],[2008.158,720,200],[2008.19,1100,400],[2008.258,1200,400],[2008.29,900,350],[2008.308,1000,350],[2008.342,1100,400],[2008.358,600,300],[2008.392,1300,450],[2008.408,800,300],[2008.442,1100,400],[2008.458,1600,500],[2008.475,900,300],[2008.492,700,300],[2008.509,1000,300],[2008.526,1250,400],[2008.543,700,300],[2008.56,950,300],[2008.576,780,250],[2008.593,550,200],[2008.61,700,250],[2008.627,820,250],[2008.643,1000,350],[2008.66,900,300],[2008.677,850,300],[2008.694,1300,400],[2008.71,950,300],[2008.727,1150,350],[2008.752,1000,300],[2008.778,900,300],[2008.795,1000,300],[2008.811,850,300],[2008.828,800,300],[2008.845,700,250],[2008.862,650,250],[2008.878,900,300],[2008.895,780,300],[2008.912,600,300],[2008.928,450,300],[2008.962,550,250],[2008.978,800,300],[2008.995,900,300],[2009.02,1000,300],[2009.045,850,300],[2009.062,1100,350],[2009.079,750,300],[2009.112,950,300],[2009.12,1100,350],[2009.155,800,300],[2009.188,950,300],[2009.222,900,300],[2009.255,850,300],[2009.288,1000,300],[2009.322,950,300],[2009.39,850,300],[2009.423,800,300],[2009.456,780,300],[2009.498,500,300],[2009.53,300,250],[2009.548,600,300],[2009.565,750,300],[2009.582,1100,400],[2009.598,950,350],[2009.615,850,300],[2009.632,1150,400],[2009.648,1000,350],[2009.674,1100,350],[2009.708,950,300],[2009.741,800,300],[2009.775,700,300],[2009.808,850,300],[2009.842,900,300],[2009.875,700,300],[2009.909,850,300],[2009.943,1000,350],[2009.976,800,300],
[2010.026,537,200],[2010.058,1153,400],[2010.074,418,200],[2010.099,1564,500],[2010.147,596,250],[2010.163,895,300],[2010.203,566,250],[2010.244,1412,500],[2010.252,895,300],[2010.292,659,250],[2010.324,1213,400],[2010.356,808,300],[2010.389,1153,400],[2010.421,659,300],[2010.453,378,250],[2010.477,1342,450],[2010.485,341,250],[2010.501,895,300],[2010.517,397,250],[2010.55,808,300],[2010.582,730,300],[2010.614,440,300],[2010.646,808,300],[2010.662,460,250],[2010.679,895,300],[2010.711,1213,400],[2010.727,1096,350],[2010.743,228,200],[2010.775,895,300],[2010.807,324,250],[2010.824,596,250],[2010.856,1096,350],[2010.872,659,250],[2010.888,360,200],[2010.904,486,200],[2010.92,693,250],[2010.925,216,150],[2010.96,195,100],[2010.969,440,200],
[2010.04,900,300],[2010.085,750,300],[2010.12,950,350],[2010.18,800,300],[2010.22,1000,350],[2010.27,850,300],[2010.31,1000,350],[2010.34,900,300],[2010.37,750,300],[2010.40,950,350],[2010.44,1050,350],[2010.53,900,300],[2010.57,1000,350],[2010.6,850,300],[2010.63,700,300],[2010.69,1000,350],[2010.76,700,300],[2010.79,600,300],[2010.84,1000,350],[2010.9,500,250],[2010.94,620,250]
];
// panel e: running mean [time, t/day]
const so2Avg = [
[2008.001,308],[2008.015,397],[2008.031,538],[2008.065,659],[2008.098,693],[2008.132,693],[2008.149,708],[2008.166,745],[2008.182,1275],[2008.199,1370],[2008.216,1275],[2008.249,1096],[2008.275,895],[2008.299,991],[2008.333,991],[2008.400,991],[2008.434,971],[2008.467,941],[2008.534,808],[2008.568,730],[2008.618,730],[2008.651,895],[2008.702,1096],[2008.735,991],[2008.786,895],[2008.819,745],[2008.853,851],[2008.886,895],[2008.903,808],[2008.936,538],[2008.970,596],[2008.987,566],[2009.020,808],[2009.054,941],[2009.104,895],[2009.138,895],[2009.171,851],[2009.205,808],[2009.238,808],[2009.272,808],[2009.289,895],[2009.322,991],[2009.356,991],[2009.389,851],[2009.423,808],[2009.473,659],[2009.506,486],[2009.531,418],[2009.557,486],[2009.590,808],[2009.624,1050],[2009.657,991],[2009.691,895],[2009.724,808],[2009.758,659],[2009.791,767],[2009.842,851],[2009.892,851],[2009.926,808],[2009.976,708],[2010.002,693],[2010.083,713],[2010.163,713],[2010.195,767],[2010.211,825],[2010.244,808],[2010.324,767],[2010.405,792],[2010.469,825],[2010.501,730],[2010.534,659],[2010.582,659],[2010.646,627],[2010.679,767],[2010.727,730],[2010.775,730],[2010.807,659],[2010.856,627],[2010.888,596],[2010.92,440],[2010.936,385],[2010.96,378],[2010.969,512],[2010.977,418],[2011.001,418],[2011.009,596],[2011.041,627]
];

// ---------------- LAYOUT / HELPERS ----------------
const W = 1156, ML = 123, MR = 120, PH = 165, PW = W - ML - MR;
const FONT = '"Liberation Sans", Arial, Helvetica, sans-serif';
const TXT = "#262626", BLUE = "#0072BD", ORANGE = "#D95319";
const FS = 20;
const chart = document.getElementById("chart");
function yr(v) { const y = Math.floor(v); const a = Date.UTC(y,0,1), b = Date.UTC(y+1,0,1); return new Date(a + (v - y) * (b - a)); }
const byTime = arr => arr.slice().sort((p, q) => p[0] - q[0]);
const xDomain = [new Date("2008-01-01"), new Date("2012-01-01")];
const xTicks = xTickDates.map(s => new Date(s));
const shades = shadeStart.map((s, i) => ({a: new Date(s), b: new Date(shadeEnd[i])}));
const events = eventDates.map((s, i) => ({d: new Date(s), label: eventLabels[i]}));
const flatSeg = segs => segs.flatMap((seg, i) => seg.map(p => ({t: yr(p[0]), v: p[1], s: i})));
const style = {background: "transparent", fontFamily: FONT, fontSize: FS + "px", color: TXT, overflow: "visible"};
function place(svg, top) { svg.style.position = "absolute"; svg.style.left = "0px"; svg.style.top = top + "px"; chart.appendChild(svg); }
const gridStyle = {stroke: "#8c8c8c", strokeOpacity: 0.6, strokeDasharray: "1.2,2.8"};
function under(yGrid) {
  return [
    Plot.rect(shades, {x1: "a", x2: "b", fill: "#cccccc"}),
    Plot.gridX(xTicks, gridStyle),
    Plot.gridY(yGrid, gridStyle),
    Plot.ruleX(events, {x: "d", stroke: "#4a4a4a", strokeWidth: 1})
  ];
}
function over(yTicks, left, right) {
  const m = [
    Plot.frame({stroke: TXT}),
    Plot.tickX(xTicks, {x: d => d, insetTop: PH - 7, stroke: TXT}),
    Plot.tickX(xTicks, {x: d => d, insetBottom: PH - 7, stroke: TXT})
  ];
  if (left) m.push(Plot.tickY(yTicks, {y: d => d, insetRight: PW - 7, stroke: left}));
  if (right) m.push(Plot.tickY(yTicks, {y: d => d, insetLeft: PW - 7, stroke: right}));
  return m;
}
function base(mt, mb, extra) {
  return {width: W, height: mt + PH + mb, marginTop: mt, marginBottom: mb, marginLeft: ML, marginRight: MR, style,
          x: {type: "utc", domain: xDomain, axis: null}, ...extra};
}
const letter = s => Plot.text([s], {frameAnchor: "top-left", dx: 20, dy: 28, textAnchor: "start", lineAnchor: "middle", fontSize: FS, fill: "#000"});
const yLabel = (s, dx, color = TXT, lh = 1.3) => Plot.text([s], {frameAnchor: "left", dx, rotate: -90, lineAnchor: "middle", fontSize: 21, lineHeight: lh, fill: color});

function colorbar(top, mt, h, domain, scale, ticks, label) {
  const n = 80, step = (domain[1] - domain[0]) / n;
  const ramp = d3.range(n).map(i => [domain[0] + i * step, domain[0] + (i + 1) * step]);
  return place(Plot.plot({
    width: W, height: mt + h + 20, marginTop: mt, marginBottom: 20, marginLeft: 1043, marginRight: W - 1058, style,
    y: {domain}, color: scale,
    marks: [
      Plot.rect(ramp, {y1: d => d[0], y2: d => d[1], fill: d => (d[0] + d[1]) / 2}),
      Plot.frame({stroke: TXT}),
      Plot.tickY(ticks, {y: d => d, insetLeft: 10, stroke: TXT}),
      Plot.axisY(ticks, {anchor: "right", tickSize: 0, tickPadding: 7, fontSize: FS, label: null}),
      Plot.text([label], {frameAnchor: "right", dx: 48, rotate: -90, lineAnchor: "middle", fontSize: 21})
    ]
  }), top);
}

// ---------------- PANEL a ----------------
const colorA = {type: "linear", domain: [6, 40.5], range: ["#00ffff", "#ff00ff"], clamp: true};
place(Plot.plot({...base(12, 10, {}), y: {domain: [10, 45]}, color: colorA,
  marks: [
    ...under(d3.range(10, 45, 2)),
    Plot.dot(eventsA, {x: d => yr(d[0]), y: d => d[1], fill: d => d[2], r: 3.2}),
    Plot.line(flatSeg(medianA), {x: "t", y: "v", z: "s", stroke: "#000", strokeWidth: 2.4}),
    Plot.axisY([10, 20, 30, 40], {tickSize: 0, tickPadding: 9, fontSize: FS, label: null}),
    yLabel("T (s)", -78),
    letter("a."),
    ...over([10, 20, 30, 40], TXT, TXT)
  ]}), 0);
colorbar(0, 12, 139, [6, 40.5], colorA, [10, 20, 30, 40], "Q");

// ---------------- PANEL b ----------------
const colorB = {type: "linear", domain: [9.6, 45.3], range: ["#0000ff", "#00ff80"], clamp: true};
place(Plot.plot({...base(30, 10, {}), y: {domain: [5, 76]}, color: colorB,
  marks: [
    ...under(d3.range(10, 76, 5)),
    Plot.dot(eventsB, {x: d => yr(d[0]), y: d => d[1], fill: d => d[2], r: 2.8}),
    Plot.line(flatSeg(medianB), {x: "t", y: "v", z: "s", stroke: "#000", strokeWidth: 3}),
    Plot.axisY([20, 40, 60], {tickSize: 0, tickPadding: 9, fontSize: FS, label: null}),
    yLabel("Q", -66),
    letter("b."),
    ...over([20, 40, 60], TXT, TXT)
  ]}), 164);
colorbar(164, 30, 134, [9.6, 45.3], colorB, [10, 20, 30, 40], "T (s)");

// ---------------- PANEL c ----------------
place(Plot.plot({...base(30, 10, {}), y: {domain: [750, 1050]},
  marks: [
    ...under([800, 900, 1000]),
    Plot.line(lakeElev, {x: d => yr(d[0]), y: d => d[1], stroke: "#0000ff", strokeWidth: 1}),
    Plot.axisY([800, 900, 1000], {tickSize: 0, tickPadding: 9, fontSize: FS, label: null, color: BLUE, tickFormat: d3.format("d")}),
    yLabel("Lava-lake\nelevation (m)", -95, BLUE, 1.3),
    letter("c."),
    ...over([800, 900, 1000], BLUE, null),
    Plot.ruleX([xDomain[0]], {stroke: BLUE})
  ]}), 347);
const areaRows = lakeAreaTime.map((t, i) => ({t: yr(t), v: lakeArea[i], dot: i < lakeArea.length - 1}));
place(Plot.plot({...base(30, 10, {}), y: {domain: [0, 50000]},
  marks: [
    Plot.line(areaRows, {x: "t", y: "v", stroke: "#ff0000", strokeWidth: 1}),
    Plot.dot(areaRows.filter(d => d.dot), {x: "t", y: "v", fill: "#ff0000", r: 2.6}),
    Plot.tickY([0, 20000, 40000], {y: d => d, insetLeft: PW - 7, stroke: ORANGE}),
    Plot.ruleX([xDomain[1]], {stroke: ORANGE}),
    Plot.axisY([0, 20000, 40000], {anchor: "right", tickSize: 0, tickPadding: 9, fontSize: FS, label: null, color: ORANGE, tickFormat: d => d / 1e4}),
    Plot.text(["×10⁴"], {frameAnchor: "top-right", dx: 3, dy: -19, textAnchor: "start", lineAnchor: "middle", fill: ORANGE, fontSize: FS}),
    Plot.text(["Lava-lake\narea (m²)"], {frameAnchor: "right", dx: 60, rotate: -90, lineAnchor: "middle", fontSize: 21, lineHeight: 1.35, fill: ORANGE})
  ]}), 347);

// ---------------- PANEL d ----------------
place(Plot.plot({...base(30, 10, {}), y: {domain: [30, 160]},
  marks: [
    ...under([50, 100, 150]),
    Plot.line(byTime(tiltUWE), {x: d => yr(d[0]), y: d => d[1], stroke: "#0000ff", strokeWidth: 1}),
    Plot.axisY([50, 100, 150], {tickSize: 0, tickPadding: 9, fontSize: FS, label: null, color: BLUE}),
    yLabel("UWE north tilt\n(microrad)", -83, BLUE, 1.2),
    letter("d."),
    ...over([50, 100, 150], BLUE, null),
    Plot.ruleX([xDomain[0]], {stroke: BLUE})
  ]}), 529);
place(Plot.plot({...base(30, 10, {}), y: {domain: [-245, 280]},
  marks: [
    Plot.line(byTime(gpsHOVL), {x: d => yr(d[0]), y: d => d[1], stroke: "#ff0000", strokeWidth: 1}),
    Plot.tickY([-200, 0, 200], {y: d => d, insetLeft: PW - 7, stroke: ORANGE}),
    Plot.ruleX([xDomain[1]], {stroke: ORANGE}),
    Plot.axisY([-200, 0, 200], {anchor: "right", tickSize: 0, tickPadding: 9, fontSize: FS, label: null, color: ORANGE}),
    Plot.text(["HOVL vertical\nGPS (m)"], {frameAnchor: "right", dx: 88, rotate: -90, lineAnchor: "middle", fontSize: 21, lineHeight: 1.35, fill: ORANGE})
  ]}), 529);

// ---------------- PANEL e ----------------
const logTicks = d3.scaleLog().domain([100, 15000]).ticks();
place(Plot.plot({width: W, height: 30 + PH + 65, marginTop: 30, marginBottom: 65, marginLeft: ML, marginRight: MR, style,
  x: {type: "utc", domain: xDomain}, y: {type: "log", domain: [100, 15000]},
  marks: [
    ...under(logTicks),
    Plot.ruleX(so2Obs, {x: d => yr(d[0]), y1: d => Math.max(d[1] - d[2], 100), y2: d => d[1] + d[2], stroke: "#00ff00", strokeWidth: 1}),
    Plot.dot(so2Obs, {x: d => yr(d[0]), y: d => d[1], fill: "#008a00", r: 2.3}),
    Plot.line(so2Avg, {x: d => yr(d[0]), y: d => d[1], stroke: "#000", strokeWidth: 3.6}),
    Plot.dot(so2Avg, {x: d => yr(d[0]), y: d => d[1], stroke: "#000", fill: "#666", r: 1.6, strokeWidth: 1}),
    Plot.text(events, {x: "d", text: "label", frameAnchor: "bottom", rotate: -90, textAnchor: "start", lineAnchor: "middle", dx: 17, dy: -9, fontSize: FS, fill: "#000"}),
    Plot.axisY([100, 10000], {tickSize: 0, tickPadding: 9, fontSize: FS, label: null, dy: -3, tickFormat: d => d === 100 ? "10²" : "10⁴"}),
    Plot.axisX(xTicks, {tickSize: 0, tickPadding: 11, fontSize: FS, label: null, tickFormat: d3.utcFormat("%b %Y")}),
    Plot.text(["Time (UTC)"], {frameAnchor: "bottom", dy: 48, lineAnchor: "middle", fontSize: 21}),
    yLabel("SO₂ (t/day)", -74),
    letter("e."),
    ...over([100, 1000, 10000], TXT, TXT),
    Plot.tickY(logTicks, {y: d => d, insetRight: PW - 4, stroke: TXT}),
    Plot.tickY(logTicks, {y: d => d, insetLeft: PW - 4, stroke: TXT})
  ]}), 712);
</script></body></html>
